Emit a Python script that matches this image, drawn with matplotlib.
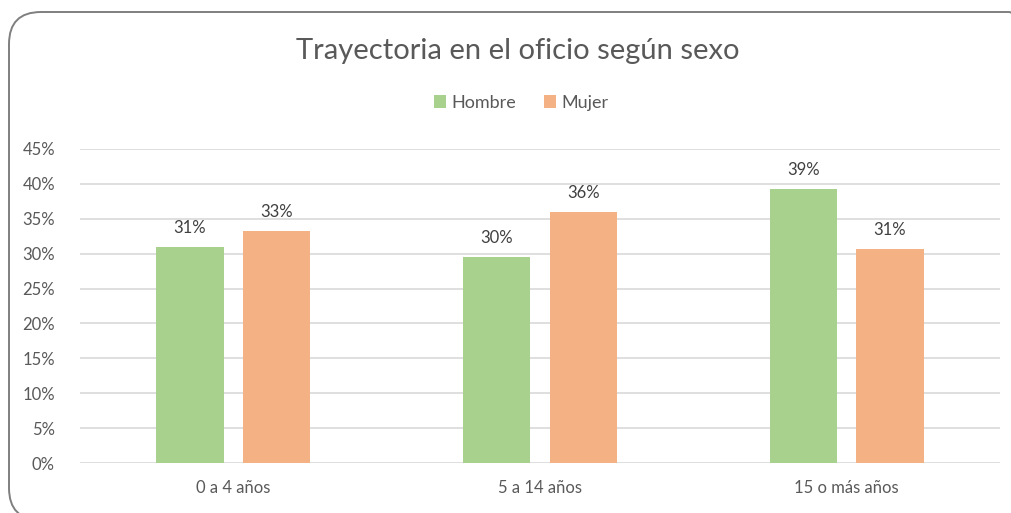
import matplotlib.pyplot as plt
import numpy as np
from matplotlib.patches import FancyBboxPatch
from matplotlib.transforms import IdentityTransform
from matplotlib.ticker import PercentFormatter

# Data
categories = ["0 a 4 años", "5 a 14 años", "15 o más años"]
hombre = [0.31, 0.295, 0.393]
mujer = [0.332, 0.36, 0.307]
hombre_labels = ["31%", "30%", "39%"]
mujer_labels = ["33%", "36%", "31%"]

plt.rcParams['font.family'] = ['Lato', 'DejaVu Sans']
text_color = "#595959"
green = "#A9D18E"
orange = "#F4B183"

fig = plt.figure(figsize=(10.12, 5.13), dpi=100)

# Rounded chart border (pixel coordinates, partly cut off at right and bottom)
frame = FancyBboxPatch((9, -7), 1032, 508,
                       boxstyle="round,pad=0,rounding_size=32",
                       transform=IdentityTransform(), facecolor="none",
                       edgecolor="#7f7f7f", linewidth=1.4, zorder=-1)
fig.patches.append(frame)

ax = fig.add_axes([80 / 1012, 50 / 513, 920 / 1012, 314 / 513])
ax.set_facecolor("none")

x = np.arange(len(categories))
width = 0.22
offset = 0.141
bars_h = ax.bar(x - offset, hombre, width, color=green, label="Hombre", zorder=3)
bars_m = ax.bar(x + offset, mujer, width, color=orange, label="Mujer", zorder=3)

for bars, labels in [(bars_h, hombre_labels), (bars_m, mujer_labels)]:
    for b, lab in zip(bars, labels):
        ax.annotate(lab, (b.get_x() + b.get_width() / 2, b.get_height()),
                    xytext=(0, 8), textcoords="offset points",
                    ha="center", va="bottom", fontsize=12, color="#404040")

ax.set_ylim(0, 0.45)
ax.set_xlim(-0.5, 2.5)
ax.set_yticks(np.arange(0, 0.46, 0.05))
ax.yaxis.set_major_formatter(PercentFormatter(1.0, decimals=0))
ax.set_xticks(x)
ax.set_xticklabels(categories)
ax.tick_params(axis="both", length=0, labelsize=12, colors=text_color)
ax.tick_params(axis="y", pad=18)
ax.tick_params(axis="x", pad=12)
ax.grid(axis="y", color="#D9D9D9", linewidth=1.2, zorder=0)
for s in ax.spines.values():
    s.set_visible(False)

fig.text(0.512, 0.9, "Trayectoria en el oficio según sexo",
         ha="center", va="center", fontsize=21, color=text_color)

fig.legend(handles=[bars_h, bars_m], loc="center", bbox_to_anchor=(0.515, 0.8),
           ncol=2, frameon=False, fontsize=13, labelcolor=text_color,
           handlelength=0.7, handleheight=0.7, handletextpad=0.3,
           columnspacing=1.5)

fig.savefig("out.png", dpi=100)
